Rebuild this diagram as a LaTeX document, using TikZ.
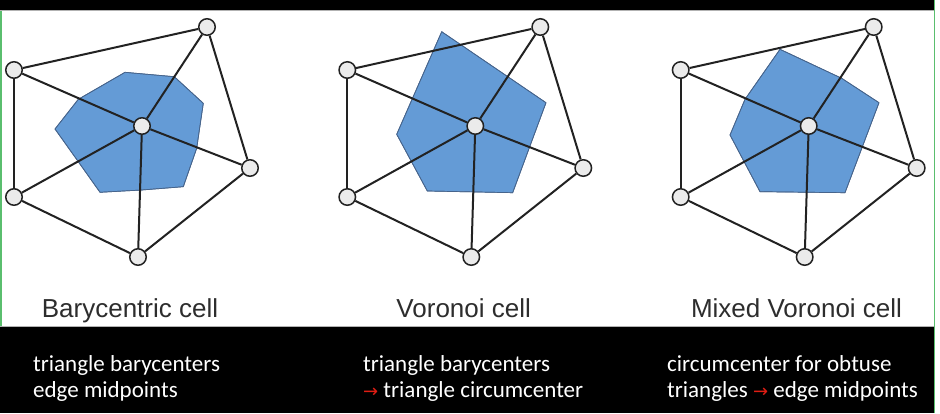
\documentclass[tikz,border=0pt]{standalone}
\usepackage{fontspec}
\setmainfont{Liberation Sans}
\newfontfamily\calib{Carlito}
\newfontfamily\dejavu{DejaVu Sans}
\usetikzlibrary{calc}
\definecolor{cellblue}{RGB}{100,155,214}
\definecolor{celledge}{RGB}{70,100,140}
\definecolor{edgecol}{RGB}{34,34,34}
\definecolor{nodefill}{RGB}{235,235,235}
\definecolor{captioncol}{RGB}{45,45,45}
\definecolor{greenline}{RGB}{90,190,110}
\definecolor{arrowred}{RGB}{225,30,20}
\newcommand\meshpanel[1]{%
  \node[vtx] (A#1) at (207,27) {};
  \node[vtx] (B#1) at (14,70) {};
  \node[vtx] (C#1) at (142,126) {};
  \node[vtx] (F#1) at (250,168) {};
  \node[vtx] (D#1) at (14,197) {};
  \node[vtx] (E#1) at (138,257) {};
  \draw[meshedge] (C#1) -- (A#1);
  \draw[meshedge] (C#1) -- (B#1);
  \draw[meshedge] (C#1) -- (D#1);
  \draw[meshedge] (C#1) -- (E#1);
  \draw[meshedge] (C#1) -- (F#1);
  \draw[meshedge] (A#1) -- (B#1);
  \draw[meshedge] (B#1) -- (D#1);
  \draw[meshedge] (D#1) -- (E#1);
  \draw[meshedge] (E#1) -- (F#1);
  \draw[meshedge] (F#1) -- (A#1);
}
\begin{document}
\begin{tikzpicture}[x=1pt,y=-1pt,
  vtx/.style={circle,draw=edgecol,fill=nodefill,line width=1.5pt,minimum size=16.5pt,inner sep=0pt},
  meshedge/.style={draw=edgecol,line width=2pt},
  cell/.style={fill=cellblue,draw=celledge,line width=0.7pt,line join=round},
  caption/.style={text=captioncol,font=\fontsize{26}{30}\selectfont,anchor=base,inner sep=0pt},
  note/.style={text=white,font=\calib\fontsize{23}{26}\selectfont,anchor=base west,inner sep=0pt}]
\useasboundingbox (0,0) rectangle (940,413);
\fill[white] (0,0) rectangle (940,413);
\fill[black] (0,0) rectangle (933.5,10);
\fill[black] (0,327) rectangle (933.5,413);
\draw[gray!60, line width=0.8pt] (0,10.4) -- (933.5,10.4);
\draw[gray!60, line width=0.8pt] (0,326.6) -- (933.5,326.6);
\fill[greenline] (0,10.8) rectangle (1.5,326.2);
\fill[greenline] (933.5,0) rectangle (935,413);

% Barycentric cell
\fill[cell] (55,129) -- (78.3,99.3) -- (125,72.3) -- (174.3,76.7) -- (203.3,103.3)
  -- (196.7,148.3) -- (183.3,186.7) -- (141.7,190) -- (100,192.3) -- (78.3,161.7) -- cycle;
\draw[cell,fill=none] (55,129) -- (78.3,99.3) -- (125,72.3) -- (174.3,76.7) -- (203.3,103.3)
  -- (196.7,148.3) -- (183.3,186.7) -- (141.7,190) -- (100,192.3) -- (78.3,161.7) -- cycle;
\meshpanel{1}

% Voronoi cell
\fill[cell] (441.7,31.7) -- (546,102.7) -- (512.7,192.7) -- (427.3,191) -- (396.7,134.3) -- cycle;
\draw[cell,fill=none] (441.7,31.7) -- (546,102.7) -- (512.7,192.7) -- (427.3,191) -- (396.7,134.3) -- cycle;
\begin{scope}[xshift=333.3pt]
\meshpanel{2}
\end{scope}

% Mixed Voronoi cell
\fill[cell] (780,49.3) -- (841.7,78.3) -- (879,102.7) -- (845,192.7) -- (760,191.7) -- (730,135) -- (745,99.3) -- cycle;
\draw[cell,fill=none] (780,49.3) -- (841.7,78.3) -- (879,102.7) -- (845,192.7) -- (760,191.7) -- (730,135) -- (745,99.3) -- cycle;
\begin{scope}[xshift=666.7pt]
\meshpanel{3}
\end{scope}

\node[caption] (cap1) at (130,317) {Barycentric cell};
\node[caption] (cap2) at (463.7,317) {Voronoi cell};
\node[caption] (cap3) at (796.5,317) {Mixed Voronoi cell};

\node[note] (n1a) at (33,371) {triangle barycenters};
\node[note] (n1b) at (33,397.5) {edge midpoints};
\node[note] (n2a) at (363,371) {triangle barycenters};
\node[note] (n2b) at (363,397.5) {{\color{arrowred}\dejavu\fontsize{18}{20}\selectfont →} triangle circumcenter};
\node[note] (n3a) at (667,371) {circumcenter for obtuse};
\node[note] (n3b) at (667,397.5) {triangles {\color{arrowred}\dejavu\fontsize{18}{20}\selectfont →} edge midpoints};
\end{tikzpicture}
\end{document}
